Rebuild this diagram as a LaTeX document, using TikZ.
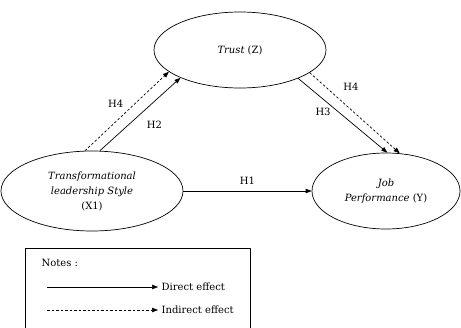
\documentclass[tikz,border=0pt]{standalone}
\usepackage{fontspec}
\setmainfont{DejaVu Serif}
\usetikzlibrary{shapes.geometric,arrows.meta}
\tikzset{
  var/.style={ellipse,draw,inner sep=0pt,align=center},
  eff/.style={-{Triangle[length=6pt,width=4.5pt]}},
  ieff/.style={eff,dashed,dash pattern=on 2.5pt off 2pt},
}
\begin{document}
\begin{tikzpicture}[x=1pt,y=-1pt,line join=round,line width=.7pt,font=\fontsize{10}{15}\selectfont]
				\useasboundingbox (0,0) rectangle (461,327);
				\node[var,minimum width=172pt,minimum height=76pt] (Z) at (240,50) {\textit{Trust} (Z)};
				\node[var,minimum width=182pt,minimum height=80pt] (X) at (92,191) {\textit{Transformational}\\\textit{leadership Style}\\(X1)};
				\node[var,minimum width=148pt,minimum height=76pt] (Y) at (386,191) {\textit{Job}\\\textit{Performance} (Y)};
				\draw[eff] (X.79)--(Z.205) node[pos=.5,below right=3pt] {H2};
				\draw[ieff] (X.100)--(Z.197) node[pos=.5,above left] {H4};
				\draw[eff] (Z.334)--(Y.88) node[pos=.45,left=4pt] {H3};
				\draw[ieff] (Z.342)--(Y.70) node[pos=.3,above right=3pt] {H4};
				\draw[eff] (X.east)--(Y.west) node[midway,above=3pt] {H1};
				% notes
				\node[draw,rectangle,anchor=north west,minimum width=225pt,minimum height=95pt,line width=.5pt] (notes) at (25,248) {};
				\node[anchor=west] (nt) at (38,263) {Notes :};
				\node[anchor=west] (de) at (158,287) {Direct effect};
				\node[anchor=west] (ie) at (158,310) {Indirect effect};
				\coordinate (d0) at (47,287);
				\coordinate (i0) at (47,310);
				\draw[eff,line width=.5pt] (d0)--(de.west);
				\draw[ieff,line width=.5pt] (i0)--(ie.west);
			\end{tikzpicture}
\end{document}
